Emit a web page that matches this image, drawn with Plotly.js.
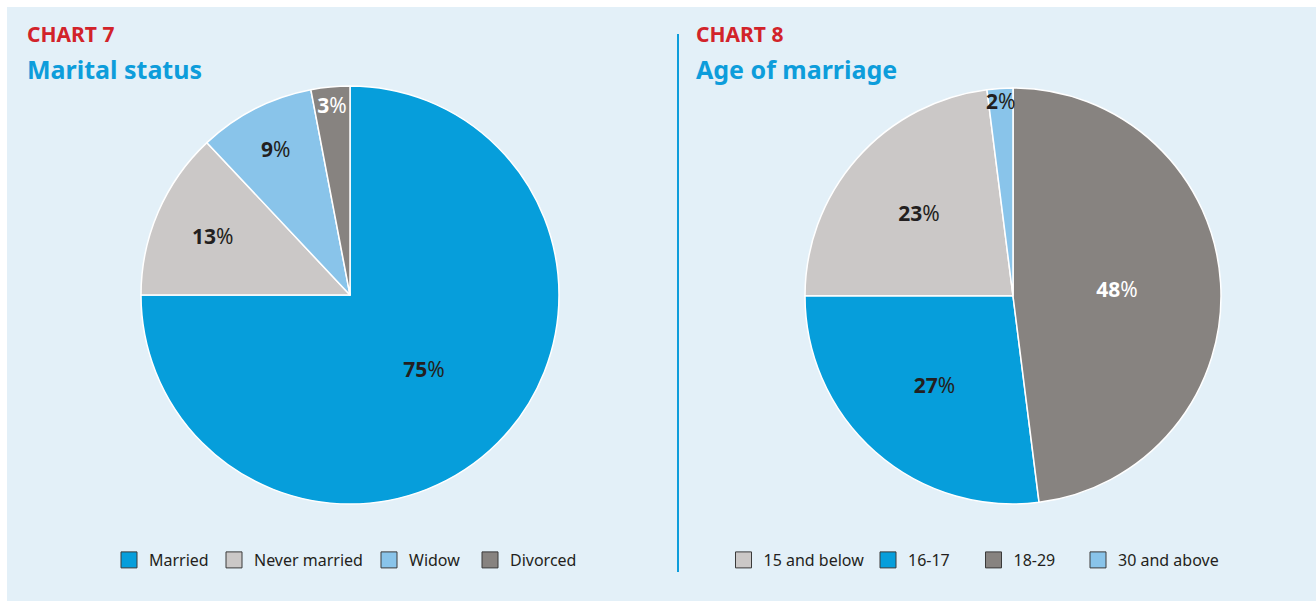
<!DOCTYPE html>
<html>
<head>
<meta charset="utf-8">
<script src="https://cdn.plot.ly/plotly-3.0.1.min.js"></script>
<style>
  html, body { margin: 0; padding: 0; background: #ffffff; }
  #chart { width: 1316px; height: 601px; }
</style>
</head>
<body>
<div id="chart"></div>
<script>
// ---- Data ----
const maritalLabels = ["Married", "Never married", "Widow", "Divorced"];
const maritalValues = [75, 13, 9, 3];
const maritalColors = ["#069edb", "#cbc8c7", "#89c4ea", "#878380"];
const maritalTextColors = ["#231f20", "#231f20", "#231f20", "#ffffff"];

const ageLabels = ["15 and below", "16-17", "18-29", "30 and above"];
const ageValues = [23, 27, 48, 2];
const ageColors = ["#cbc8c7", "#069edb", "#878380", "#89c4ea"];
const ageTextColors = ["#231f20", "#231f20", "#ffffff", "#231f20"];

const FONT = "Noto Sans, Open Sans, sans-serif";
const W = 1316, H = 601;
const px = v => v / W;
const py = v => 1 - v / H;

const traces = [];

traces.push({
  type: "pie",
  labels: maritalLabels,
  values: maritalValues,
  sort: false,
  direction: "clockwise",
  rotation: 0,
  marker: { colors: maritalColors, line: { color: "#ffffff", width: 1.5 } },
  texttemplate: "<b>%{value}</b>%",
  textposition: "inside",
  insidetextorientation: "horizontal",
  insidetextfont: { family: FONT, size: 21, color: maritalTextColors },
  hoverinfo: "label+percent",
  showlegend: false,
  domain: { x: [px(141), px(559)], y: [py(504), py(86)] }
});

traces.push({
  type: "pie",
  labels: ageLabels,
  values: ageValues,
  sort: false,
  direction: "counterclockwise",
  rotation: -90,
  marker: { colors: ageColors, line: { color: "#ffffff", width: 1.5 } },
  texttemplate: "<b>%{value}</b>%",
  textposition: "inside",
  insidetextorientation: "horizontal",
  insidetextfont: { family: FONT, size: 21, color: ageTextColors },
  hoverinfo: "label+percent",
  showlegend: false,
  domain: { x: [px(805), px(1221)], y: [py(505), py(87)] }
});

// legend-only entries (square swatches with dark outline), one legend box per entry
const leftLegendCenters = [129, 234, 389, 490];
const rightLegendCenters = [743.5, 888, 993.5, 1098];
const legendIds = [];
maritalLabels.forEach((lab, i) => {
  const id = i === 0 ? "legend" : "legend" + (i + 1);
  legendIds.push([id, leftLegendCenters[i]]);
  traces.push({
    type: "scatter", mode: "markers", x: [null], y: [null], name: lab,
    marker: { symbol: "square", size: 16, color: maritalColors[i], line: { color: "#3a3a3a", width: 1 } },
    legend: id, showlegend: true, hoverinfo: "skip"
  });
});
ageLabels.forEach((lab, i) => {
  const id = "legend" + (i + 5);
  legendIds.push([id, rightLegendCenters[i]]);
  traces.push({
    type: "scatter", mode: "markers", x: [null], y: [null], name: lab,
    marker: { symbol: "square", size: 16, color: ageColors[i], line: { color: "#3a3a3a", width: 1 } },
    legend: id, showlegend: true, hoverinfo: "skip"
  });
});

const legendCommon = {
  orientation: "h",
  bgcolor: "rgba(0,0,0,0)",
  font: { family: FONT, size: 16, color: "#231f20" },
  yanchor: "middle",
  xanchor: "left",
  traceorder: "normal",
  itemclick: false,
  itemdoubleclick: false
};

const layout = {
  width: W, height: H,
  margin: { l: 0, r: 0, t: 0, b: 0 },
  paper_bgcolor: "#ffffff",
  plot_bgcolor: "rgba(0,0,0,0)",
  xaxis: { visible: false, domain: [0, 0.01] },
  yaxis: { visible: false, domain: [0, 0.01] },
  showlegend: true,
  uniformtext: { minsize: 21, mode: "show" },
  shapes: [
    { type: "rect", xref: "paper", yref: "paper", x0: px(7), x1: 1, y0: 0, y1: py(7),
      fillcolor: "#e3f0f8", line: { width: 0 }, layer: "below" },
    { type: "line", xref: "paper", yref: "paper", x0: px(678), x1: px(678), y0: py(572), y1: py(34),
      line: { color: "#0d9ddb", width: 2 } }
  ],
  annotations: [
    { text: "<b>CHART 7</b>", xref: "paper", yref: "paper", x: px(25), y: py(34.5), xanchor: "left", yanchor: "middle",
      showarrow: false, font: { family: FONT, size: 21, color: "#d2232a" } },
    { text: "<b>Marital status</b>", xref: "paper", yref: "paper", x: px(25), y: py(69), xanchor: "left", yanchor: "middle",
      showarrow: false, font: { family: FONT, size: 25, color: "#0d9ddb" } },
    { text: "<b>CHART 8</b>", xref: "paper", yref: "paper", x: px(694), y: py(34.5), xanchor: "left", yanchor: "middle",
      showarrow: false, font: { family: FONT, size: 21, color: "#d2232a" } },
    { text: "<b>Age of marriage</b>", xref: "paper", yref: "paper", x: px(694), y: py(69), xanchor: "left", yanchor: "middle",
      showarrow: false, font: { family: FONT, size: 25, color: "#0d9ddb" } }
  ]
};
legendIds.forEach(([id, cx]) => {
  layout[id] = Object.assign({}, legendCommon, { x: px(cx - 20), y: py(560) });
});

Plotly.newPlot("chart", traces, layout, { displayModeBar: false });
</script>
</body>
</html>
